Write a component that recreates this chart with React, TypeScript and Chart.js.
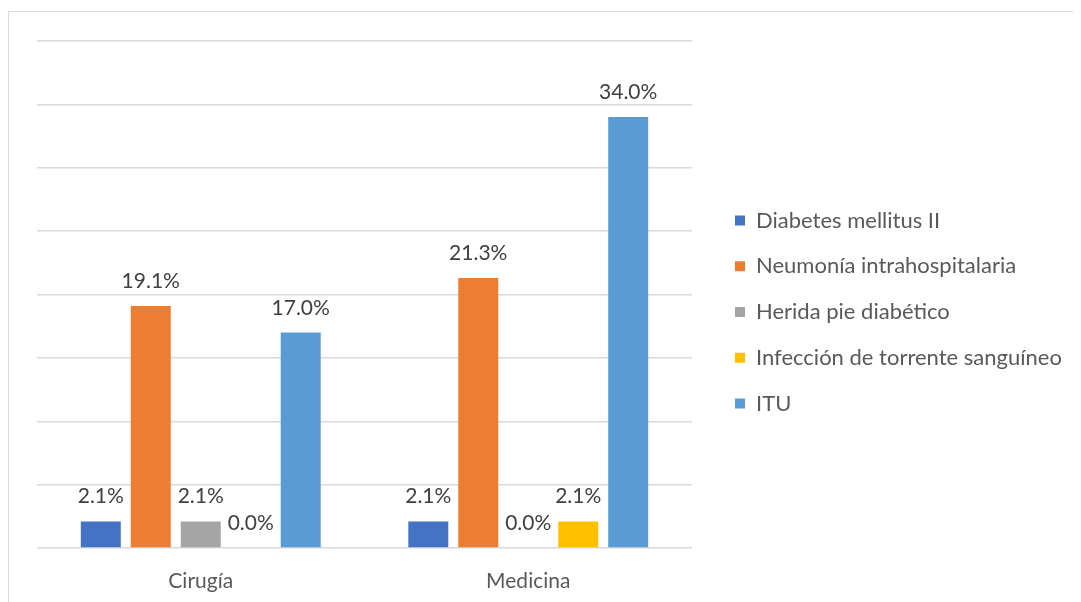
import React, { useEffect, useRef } from "react";
import { Chart, registerables } from "chart.js";

Chart.register(...registerables);

const categories = ["Cirugía", "Medicina"];
const seriesNames = [
  "Diabetes mellitus II",
  "Neumonía intrahospitalaria",
  "Herida pie diabético",
  "Infección de torrente sanguíneo",
  "ITU",
];
const diabetes = [2.1, 2.1];
const neumonia = [19.1, 21.3];
const herida = [2.1, 0.0];
const infeccion = [0.0, 2.1];
const itu = [17.0, 34.0];
const seriesColors = ["#4472C4", "#ED7D31", "#A5A5A5", "#FFC000", "#5B9BD5"];
const yMin = 0;
const yMax = 40;
const yStep = 5;

const FONT = "Lato";
const FONT_SIZE = 21;
const LEGEND_FONT_SIZE = 22;
const TEXT_COLOR = "#595959";

const valueLabels = {
  id: "valueLabels",
  afterDatasetsDraw(chart: any) {
    const ctx = chart.ctx;
    ctx.save();
    ctx.font = `${FONT_SIZE}px ${FONT}`;
    ctx.fillStyle = "#404040";
    ctx.textAlign = "center";
    ctx.textBaseline = "alphabetic";
    chart.data.datasets.forEach((ds: any, i: number) => {
      const meta = chart.getDatasetMeta(i);
      meta.data.forEach((bar: any, j: number) => {
        const v = ds.data[j] as number;
        ctx.fillText(`${v.toFixed(1)}%`, bar.x, bar.y - 18);
      });
    });
    ctx.restore();
  },
};

export default function App() {
  const ref = useRef<HTMLCanvasElement>(null);
  useEffect(() => {
    if (!ref.current) return;
    const seriesData = [diabetes, neumonia, herida, infeccion, itu];
    const chart = new Chart(ref.current, {
      type: "bar",
      data: {
        labels: categories,
        datasets: seriesNames.map((name, i) => ({
          label: name,
          data: seriesData[i],
          backgroundColor: seriesColors[i],
          borderWidth: 0,
          barPercentage: 0.8,
          categoryPercentage: 0.763,
        })),
      },
      options: {
        animation: false,
        responsive: false,
        layout: { padding: { left: 28, top: 29, right: 19.75, bottom: 0 } },
        font: { family: FONT },
        plugins: {
          tooltip: { enabled: false },
          legend: {
            position: "right",
            align: "start",
            maxWidth: 350,
            title: {
              display: true,
              text: "",
              font: { size: 10 },
              padding: { top: 132.75, bottom: 0 },
            },
            labels: {
              boxWidth: 10,
              boxHeight: 10,
              padding: 23.75,
              color: TEXT_COLOR,
              font: { family: FONT, size: LEGEND_FONT_SIZE },
            },
          },
        },
        scales: {
          x: {
            grid: { display: false },
            border: { display: false },
            ticks: {
              color: TEXT_COLOR,
              font: { family: FONT, size: FONT_SIZE },
              padding: 13,
            },
            afterFit: (s: any) => {
              s.height = 54;
            },
          },
          y: {
            min: yMin,
            max: yMax,
            ticks: { display: false, stepSize: yStep },
            grid: { color: "#D9D9D9", lineWidth: 1.5, drawTicks: false },
            border: { display: false },
            afterFit: (s: any) => {
              s.width = 0;
            },
          },
          gap: {
            position: "right",
            display: true,
            ticks: { display: false },
            grid: { display: false },
            border: { display: false },
            afterFit: (s: any) => {
              s.width = 19.25;
            },
          },
        },
      },
      plugins: [valueLabels],
    } as any);
    return () => chart.destroy();
  }, []);
  return (
    <div
      style={{
        width: 1073,
        height: 590,
        marginTop: 3,
        borderLeft: "1px solid #D9D9D9",
        borderTop: "1px solid #D9D9D9",
      }}
    >
      <canvas ref={ref} width={1072} height={590} style={{ display: "block" }} />
    </div>
  );
}
